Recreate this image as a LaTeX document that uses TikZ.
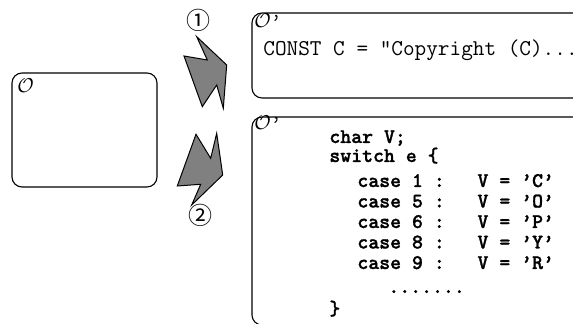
\documentclass[tikz,border=0pt]{standalone}
\usepackage{fontspec}
\newfontfamily\circfont{Noto Sans CJK JP}
\newfontfamily\codefont{lmmonolt10-bold.otf}[FakeBold=1.2]
\begin{document}
\begin{tikzpicture}[x=0.5pt,y=-0.5pt,
  box/.style={draw=black, line width=0.55pt, rounded corners=5pt, inner sep=0pt},
  bolt/.style={draw=black, fill=black!50, line width=0.5pt, line join=miter},
  code/.style={anchor=base west, inner sep=0pt, font=\fontsize{10.4}{12}\selectfont\codefont},
  plain/.style={anchor=base west, inner sep=0pt, font=\fontsize{11.3}{13}\selectfont\ttfamily},
  oname/.style={anchor=base west, inner sep=0pt, font=\fontsize{10}{12}\selectfont},
  num/.style={inner sep=0pt, font=\fontsize{12}{14}\selectfont\circfont}]
\useasboundingbox (0,0) rectangle (573,324);
\clip (0,0) rectangle (573,324);
% boxes
\node[box, minimum width=72.5pt, minimum height=57pt] (src) at (84.5,130) {};
\node[box, minimum width=167pt, minimum height=42.5pt] (tgt1) at (419,55.5) {};
\node[box, minimum width=167pt, minimum height=104pt] (tgt2) at (419,221) {};
% names
\node[oname] (o0) at (17,93) {$\mathcal{O}$};
\node[oname] (o1) at (254,28) {$\mathcal{O}$\texttt{’}};
\node[oname] (o2) at (254,130) {$\mathcal{O}$\texttt{’}};
% bolts
\draw[bolt] (196.7,36.7) -- (207.3,60) -- (184,56) -- (202.3,106.7) -- (216.7,85) -- (223.3,108.3) -- (226.7,65) -- cycle;
\draw[bolt] (196,134.3) -- (177.3,186) -- (200.7,184.3) -- (191.7,205) -- (222.7,175) -- (216.7,133.3) -- (210.7,158.3) -- cycle;
\node[num] (n1) at (198.5,20) {①};
\node[num] (n2) at (200,215) {②};
% texts
\node[plain] (t1) at (263,56) {CONST C = "Copyright (C)..."};
\node[code] (c1) at (329,143) {char V;};
\node[code] (c2) at (329,162) {switch e \{};
\node[code] (c3) at (357,187) {case 1 :~~~V = ’C’};
\node[code] (c4) at (357,207.5) {case 5 :~~~V = ’O’};
\node[code] (c5) at (357,228) {case 6 :~~~V = ’P’};
\node[code] (c6) at (357,248.5) {case 8 :~~~V = ’Y’};
\node[code] (c7) at (357,269) {case 9 :~~~V = ’R’};
\node[code] (c8) at (388,293) {.......};
\node[code] (c9) at (329,315) {\}};
\end{tikzpicture}
\end{document}
